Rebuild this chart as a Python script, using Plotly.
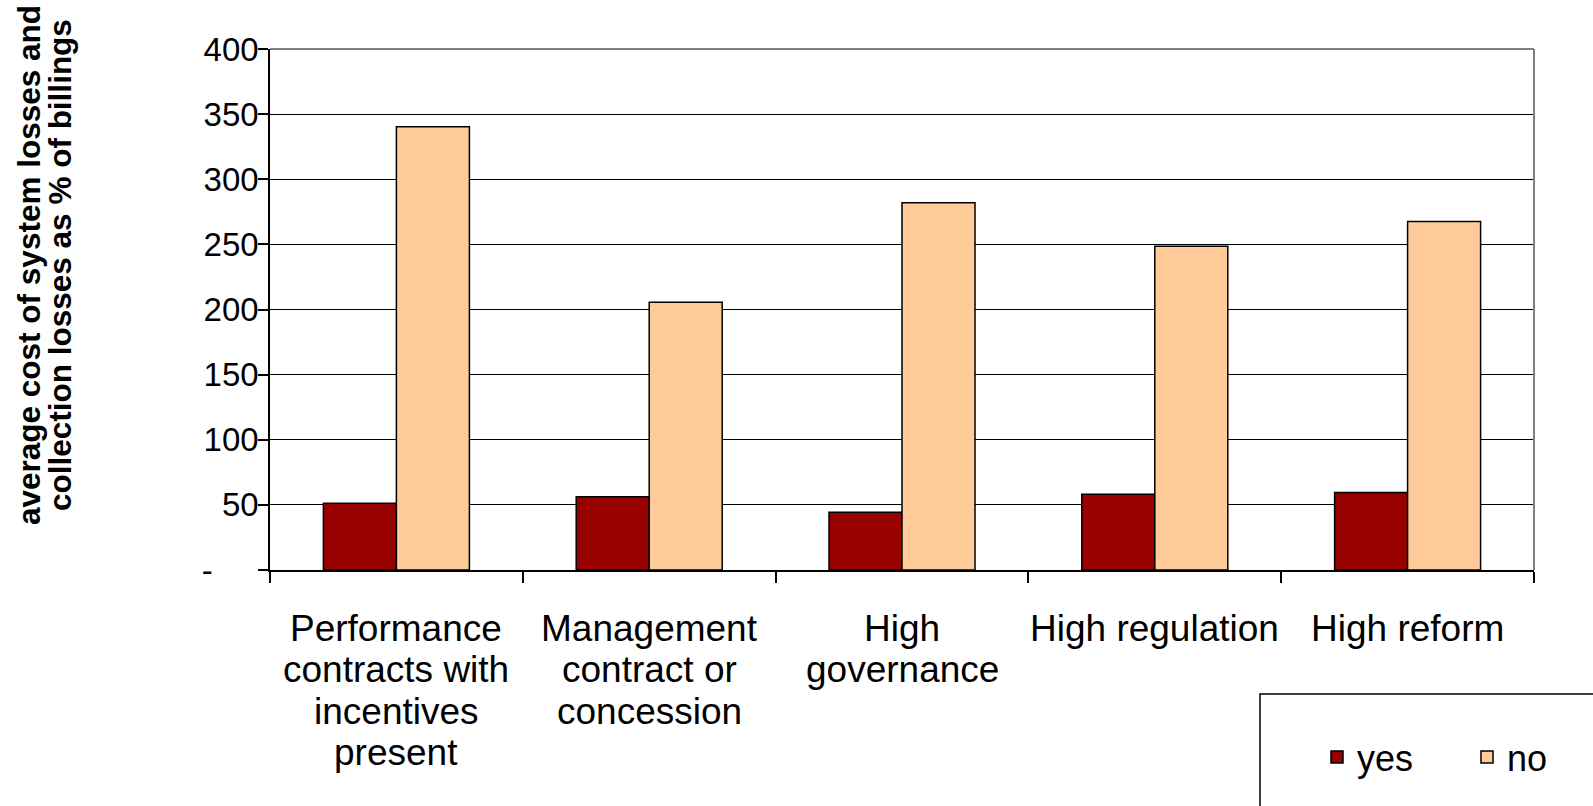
import plotly.graph_objects as go

categories = ["Performance contracts with incentives present",
              "Management contract or concession",
              "High governance",
              "High regulation",
              "High reform"]
label_lines = [["Performance", "contracts with", "incentives", "present"],
               ["Management", "contract or", "concession"],
               ["High", "governance"],
               ["High regulation"],
               ["High reform"]]
yes_vals = [51.3, 56.2, 44.4, 58.2, 59.5]
no_vals = [340.3, 205.6, 282.0, 248.5, 267.5]
y_tickvals = [0, 50, 100, 150, 200, 250, 300, 350, 400]
y_ticktext = ["-" + "\u00a0" * 5, "50", "100", "150", "200", "250", "300", "350", "400"]
title_lines = ["average cost of system losses and", "collection losses as % of billings"]

W, H = 1593, 806
L, R, T, B = 270, 59, 49, 236
pw, ph = W - L - R, H - T - B

def px_x(x):
    return (x - L) / pw

def px_y(y):
    return (H - B - y) / ph

FONT = "Liberation Sans, Arial, sans-serif"

fig = go.Figure()
fig.add_trace(go.Bar(name="yes", x=categories, y=yes_vals,
                     marker=dict(color="#990000", line=dict(color="#000000", width=1.5))))
fig.add_trace(go.Bar(name="no", x=categories, y=no_vals,
                     marker=dict(color="#FFCC99", line=dict(color="#000000", width=1.5))))

annotations = []
for cat, lines in zip(categories, label_lines):
    for j, line in enumerate(lines):
        annotations.append(dict(x=cat, xref="x", y=0, yref="paper",
                                text=line, showarrow=False,
                                xanchor="center", yanchor="middle",
                                yshift=-(58 + 41.5 * j),
                                font=dict(family=FONT, size=37, color="#000000")))
for xc, line in zip([29, 60], title_lines):
    annotations.append(dict(x=px_x(xc), xref="paper", y=px_y(265), yref="paper",
                            text="<b>" + line + "</b>", showarrow=False, textangle=-90,
                            xanchor="center", yanchor="middle",
                            font=dict(family=FONT, size=31.5, color="#000000")))

shapes = [
    dict(type="line", xref="paper", yref="paper", x0=0, x1=1, y0=1, y1=1,
         line=dict(color="#808080", width=2)),
    dict(type="line", xref="paper", yref="paper", x0=1, x1=1, y0=0, y1=1,
         line=dict(color="#808080", width=2)),
    dict(type="rect", xref="paper", yref="paper", x0=px_x(1260), x1=px_x(1700),
         y0=px_y(694), y1=px_y(900), line=dict(color="#000000", width=1.5),
         fillcolor="rgba(0,0,0,0)"),
]

fig.update_layout(
    width=W, height=H,
    margin=dict(l=L, r=R, t=T, b=B, autoexpand=False),
    paper_bgcolor="#FFFFFF", plot_bgcolor="#FFFFFF",
    barmode="group", bargap=0.4225, bargroupgap=0,
    font=dict(family=FONT, size=36, color="#000000"),
    showlegend=True,
    legend=dict(orientation="h", x=px_x(1317), y=px_y(727), xanchor="left", yanchor="top",
                font=dict(family=FONT, size=36, color="#000000"),
                bgcolor="rgba(0,0,0,0)", borderwidth=0,
                entrywidth=105, entrywidthmode="pixels", traceorder="normal"),
    annotations=annotations,
    shapes=shapes,
)
fig.update_xaxes(type="category", showticklabels=False, showgrid=False,
                 showline=True, linecolor="#000000", linewidth=1.5,
                 ticks="outside", tickson="boundaries", ticklen=11,
                 tickcolor="#000000", tickwidth=1.5, zeroline=False)
fig.update_yaxes(range=[0, 400], tickvals=y_tickvals, ticktext=y_ticktext,
                 showgrid=True, gridcolor="#000000", gridwidth=1.4,
                 showline=True, linecolor="#000000", linewidth=1.5,
                 ticks="outside", ticklen=10, tickcolor="#000000", tickwidth=1.5,
                 ticklabelstandoff=-7,
                 tickfont=dict(family=FONT, size=33, color="#000000"),
                 zeroline=False)

fig.write_html("out.html")
